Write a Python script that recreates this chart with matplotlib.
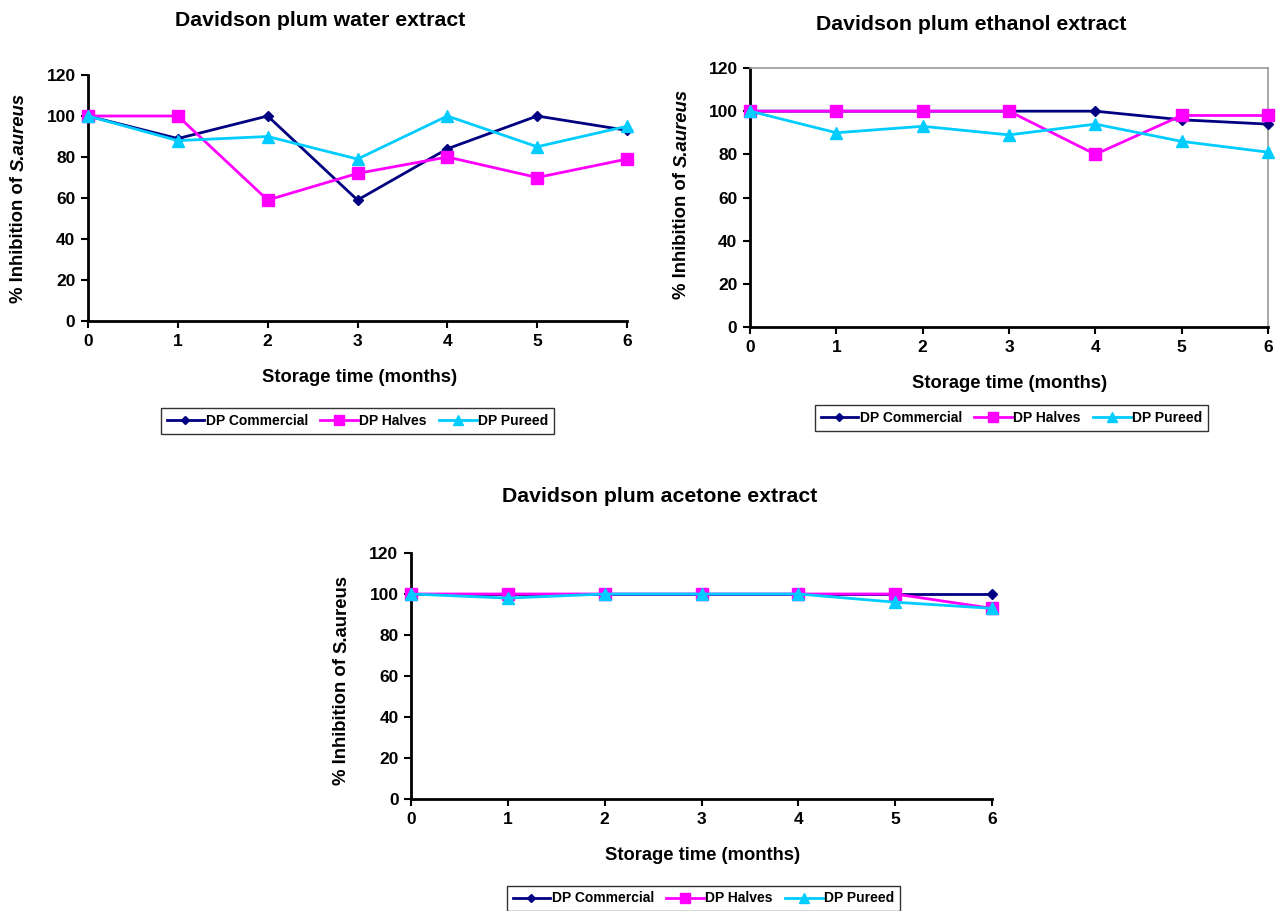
#!/usr/bin/env python3
# Davidson plum extracts: % inhibition of S. aureus over storage time
import matplotlib
matplotlib.use("Agg")
import matplotlib.pyplot as plt
from matplotlib.lines import Line2D

plt.rcParams['font.family'] = ['Liberation Sans', 'DejaVu Sans']
plt.rcParams['font.weight'] = 'bold'

# data
months = [0, 1, 2, 3, 4, 5, 6]
series_names = ["DP Commercial", "DP Halves", "DP Pureed"]

water_commercial = [100, 89, 100, 59, 84, 100, 93]
water_halves = [100, 100, 59, 72, 80, 70, 79]
water_pureed = [100, 88, 90, 79, 100, 85, 95]

ethanol_commercial = [100, 100, 100, 100, 100, 96, 94]
ethanol_halves = [100, 100, 100, 100, 80, 98, 98]
ethanol_pureed = [100, 90, 93, 89, 94, 86, 81]

acetone_commercial = [100, 100, 100, 100, 100, 100, 100]
acetone_halves = [100, 100, 100, 100, 100, 100, 93]
acetone_pureed = [100, 98, 100, 100, 100, 96, 93]

# styles
colors = ["#000080", "#FF00FF", "#00CCFF"]
markers = ["D", "s", "^"]
msizes = [5.5, 8, 8]

W, H = 1288, 911
fig = plt.figure(figsize=(W / 100, H / 100), dpi=100)
label_parts = []


def px_axes(left, top, right, bottom):
    return fig.add_axes([left / W, 1 - bottom / H, (right - left) / W, (bottom - top) / H])


def draw_panel(ax, values, title, ylabel_xy, italic_species, title_xy, xlabel_xy, legend_box,
               gray_frame=False):
    for idx, vals in enumerate(values):
        ax.plot(months, vals, color=colors[idx], marker=markers[idx], markersize=msizes[idx],
                linewidth=2, clip_on=False, zorder=3 + idx)
    ax.set_xlim(0, 6)
    ax.set_ylim(0, 120)
    ax.set_xticks(months)
    ax.set_yticks(range(0, 121, 20))
    ax.tick_params(direction='out', length=5, width=1.5, labelsize=12.5)
    ax.tick_params(axis='y', pad=4)
    ax.tick_params(axis='x', pad=4)
    for lab in ax.get_xticklabels() + ax.get_yticklabels():
        lab.set_fontweight('bold')
    ax.spines['left'].set_linewidth(2)
    ax.spines['bottom'].set_linewidth(2)
    if gray_frame:
        ax.spines['top'].set_color('#999999')
        ax.spines['right'].set_color('#999999')
        ax.spines['top'].set_linewidth(1.2)
        ax.spines['right'].set_linewidth(1.2)
    else:
        ax.spines['top'].set_visible(False)
        ax.spines['right'].set_visible(False)
    # y label in two pieces so only the species name can be italic
    t1 = fig.text(ylabel_xy[0] / W, 0.5, "% Inhibition of", rotation=90, ha='center',
                  va='bottom', fontsize=13.3, fontweight='bold')
    t2 = ax.annotate("S.aureus", xy=(0.5, 1), xycoords=t1, xytext=(0, 3.7),
                     textcoords='offset points', rotation=90, ha='center', va='bottom',
                     fontsize=13.3, fontweight='bold',
                     fontstyle='italic' if italic_species else 'normal',
                     annotation_clip=False)
    label_parts.append((t1, t2, ylabel_xy[1]))
    fig.text(title_xy[0] / W, 1 - title_xy[1] / H, title, ha='center', va='center',
             fontsize=15.3, fontweight='bold')
    fig.text(xlabel_xy[0] / W, 1 - xlabel_xy[1] / H, "Storage time (months)", ha='center',
             va='center', fontsize=13.2, fontweight='bold')
    handles = [Line2D([], [], color=colors[i], marker=markers[i], markersize=msizes[i] - 1.5,
                      linewidth=2) for i in range(3)]
    l, t, r, b = legend_box
    leg = fig.legend(handles, series_names, ncol=3, loc='center',
                     bbox_to_anchor=((l + r) / 2 / W, 1 - (t + b) / 2 / H),
                     prop={'weight': 'bold', 'size': 10}, frameon=True, fancybox=False,
                     edgecolor='black', handlelength=2.7, handletextpad=0.1,
                     columnspacing=0.9, borderpad=0.4)
    leg.get_frame().set_linewidth(1)


ax1 = px_axes(88, 75, 627, 321)
draw_panel(ax1, [water_commercial, water_halves, water_pureed],
           "Davidson plum water extract", (19, 198), True,
           (320, 21), (360, 378), (160, 408, 555, 434))

ax2 = px_axes(750, 68, 1268, 327)
draw_panel(ax2, [ethanol_commercial, ethanol_halves, ethanol_pureed],
           "Davidson plum ethanol extract", (682, 194), True,
           (971, 24), (1010, 383), (813, 405, 1210, 431), gray_frame=True)

ax3 = px_axes(411, 553, 992, 799)
draw_panel(ax3, [acetone_commercial, acetone_halves, acetone_pureed],
           "Davidson plum acetone extract", (342, 680), False,
           (660, 497), (703, 856), (505, 886, 902, 911))

# center each two-piece y label on its target height
renderer = fig.canvas.get_renderer()
for t1, t2, yc in label_parts:
    h1 = t1.get_window_extent(renderer).height
    h2 = t2.get_window_extent(renderer).height
    total = h1 + h2 + 3.7 * fig.dpi / 72
    bottom_px = (H - yc) - total / 2
    t1.set_y(bottom_px / H)

fig.savefig("out.png", dpi=100)
